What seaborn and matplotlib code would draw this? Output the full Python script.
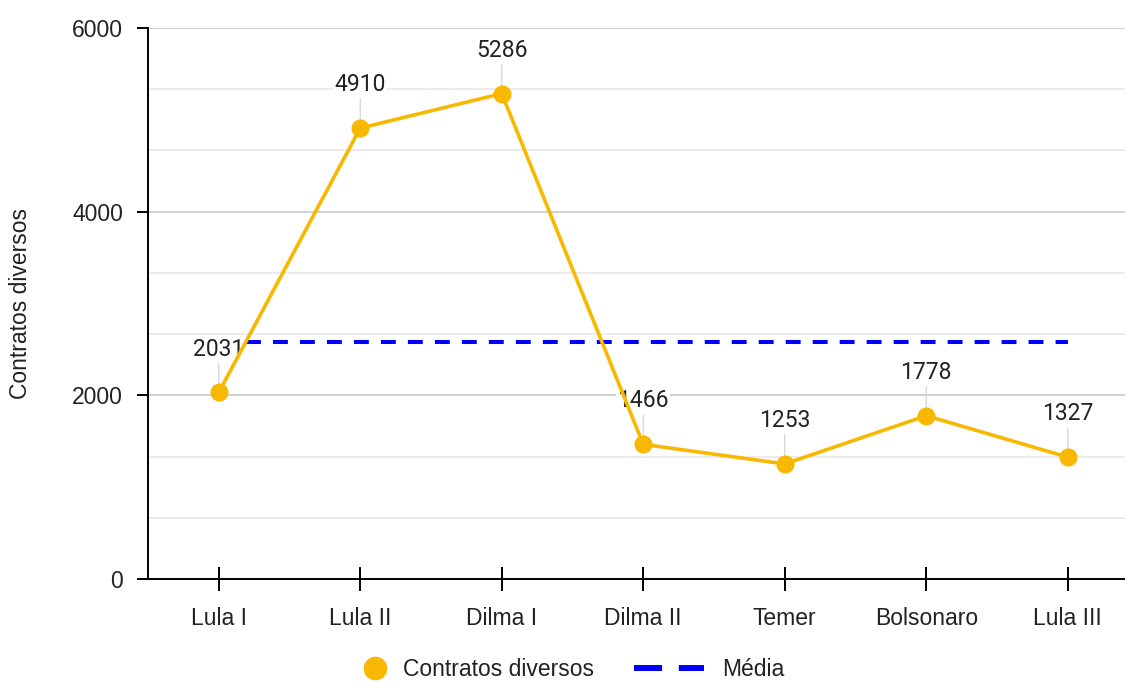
import numpy as np
import pandas as pd
import matplotlib
matplotlib.use("Agg")
import matplotlib.pyplot as plt
from matplotlib.lines import Line2D
from matplotlib.ticker import MultipleLocator
import seaborn as sns

governos = ["Lula I", "Lula II", "Dilma I", "Dilma II", "Temer", "Bolsonaro", "Lula III"]
contratos = [2031, 4910, 5286, 1466, 1253, 1778, 1327]
serie_nome = "Contratos diversos"
media_nome = "Média"

media = float(np.mean(contratos))
df = pd.DataFrame({"governo": governos, "contratos": contratos, "media": [media] * len(governos)})

sns.set_theme(style="white")
plt.rcParams["font.family"] = ["Liberation Sans", "DejaVu Sans"]

AMARELO = "#F9B800"
AZUL = "#0000FF"
FS = 16.5

fig = plt.figure(figsize=(11.25, 6.84), dpi=100)
ax = fig.add_axes([148 / 1125, 105 / 684, 990.5 / 1125, 551 / 684])

# average line, dashed, underneath everything else
sns.lineplot(data=df, x="governo", y="media", ax=ax, color=AZUL, linewidth=2.9,
             dashes=False, sort=False, zorder=2)
ax.lines[-1].set_dashes([3.7, 3.0])

# main series
sns.lineplot(data=df, x="governo", y="contratos", ax=ax, color=AMARELO, linewidth=2.6,
             marker="o", markersize=13, markeredgewidth=0, sort=False, zorder=4)

ax.set_xlim(-0.5, 6.5)
ax.set_ylim(0, 6000)
ax.yaxis.set_major_locator(MultipleLocator(2000))
ax.yaxis.set_minor_locator(MultipleLocator(2000 / 3))
ax.grid(which="major", axis="y", color="#c4c4c4", linewidth=1.1, zorder=0)
ax.grid(which="minor", axis="y", color="#e6e6e6", linewidth=1.1, zorder=0)
ax.grid(which="major", axis="x", visible=False)
ax.set_axisbelow(True)

for s in ["top", "right"]:
    ax.spines[s].set_visible(False)
for s in ["left", "bottom"]:
    ax.spines[s].set_color("black")
    ax.spines[s].set_linewidth(1.4)

ax.tick_params(axis="y", which="major", direction="out", length=8, width=1.4,
               color="black", labelsize=FS, pad=10, left=True)
ax.tick_params(axis="y", which="minor", left=False)
ax.tick_params(axis="x", direction="inout", length=17, width=1.4, color="black",
               labelsize=FS, pad=12, bottom=True)
for lab in ax.get_xticklabels() + ax.get_yticklabels():
    lab.set_color("#222222")

ax.set_xlabel("")
ax.set_ylabel(serie_nome, fontsize=FS, color="#222222")
ax.yaxis.set_label_coords(-116 / 990.5, 0.5)

# value labels with leader lines
for i, v in enumerate(contratos):
    ax.annotate("", xy=(i, v), xytext=(0, 21), textcoords="offset points",
                arrowprops=dict(arrowstyle="-", color="#d8d8d8", lw=1.0,
                                shrinkA=0, shrinkB=0), zorder=2.6)
    ax.annotate(f"{v}", xy=(i, v), xytext=(0, 23), textcoords="offset points",
                ha="center", va="bottom", fontsize=FS, color="#222222",
                family=["Roboto", "DejaVu Sans"], zorder=3,
                bbox=dict(boxstyle="square,pad=0.05", fc="white", ec="none"))

# legend: two entries, each with its own handle length
ly = 1 - 670 / 684
leg1 = fig.legend([Line2D([], [], color=AMARELO, marker="o", markersize=17,
                          linestyle="none", markeredgewidth=0)],
                  [serie_nome], loc="center left", bbox_to_anchor=(362 / 1125, ly),
                  frameon=False, fontsize=FS, handlelength=1.17, handletextpad=0.6,
                  borderpad=0, borderaxespad=0, labelcolor="#222222")
leg2 = fig.legend([Line2D([], [], color=AZUL, linewidth=4.3, dashes=[4.7, 2.8])],
                  [media_nome], loc="center left", bbox_to_anchor=(634 / 1125, ly),
                  frameon=False, fontsize=FS, handlelength=3.05, handletextpad=0.78,
                  borderpad=0, borderaxespad=0, labelcolor="#222222")

fig.savefig("out.png", dpi=100)
